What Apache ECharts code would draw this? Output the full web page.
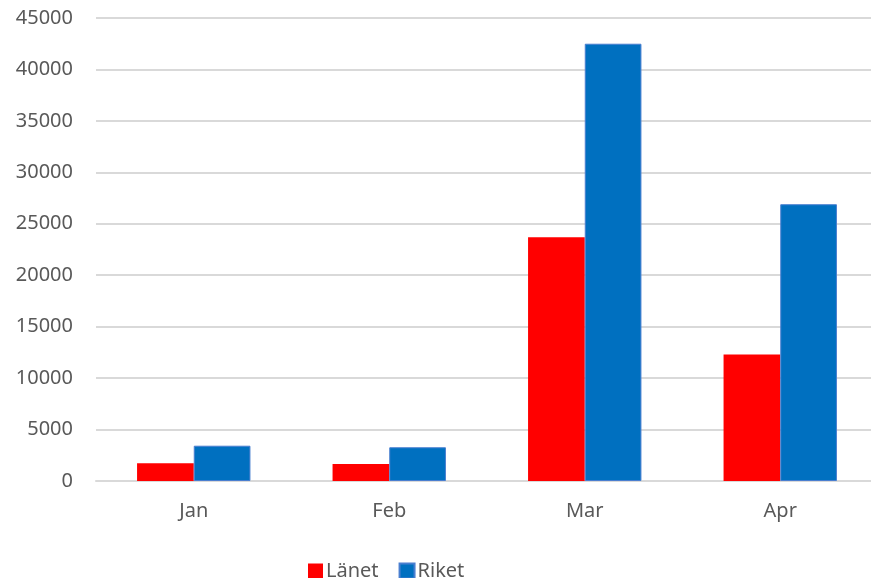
<!DOCTYPE html>
<html><head><meta charset="utf-8">
<script src="https://cdn.jsdelivr.net/npm/echarts@6/dist/echarts.min.js"></script>
<style>html,body{margin:0;padding:0;background:#fff}#c{width:871px;height:578px}</style>
</head><body><div id="c"></div>
<script>
const categories = ['Jan', 'Feb', 'Mar', 'Apr'];
const lanet = [1720, 1650, 23700, 12300];
const riket = [3430, 3280, 42500, 26900];
const seriesNames = ['Länet', 'Riket'];

const chart = echarts.init(document.getElementById('c'), null, {renderer: 'canvas'});
const font = "'Noto Sans', 'Open Sans', sans-serif";
chart.setOption({
  animation: false,
  backgroundColor: '#fff',
  textStyle: {fontFamily: font},
  grid: {left: 96, width: 782, top: 18, height: 463, containLabel: false, outerBoundsMode: 'none'},
  legend: {
    left: 303, top: 555, itemWidth: 15, itemHeight: 15, itemGap: 20,
    icon: 'rect',
    textStyle: {fontSize: 20, color: '#595959', fontFamily: font, lineHeight: 22, padding: [0, 0, 0, -2]},
    data: seriesNames
  },
  xAxis: {
    type: 'category', data: categories,
    axisLine: {lineStyle: {color: '#d9d9d9', width: 2}},
    axisTick: {show: false},
    axisLabel: {fontSize: 20, color: '#595959', margin: 20, fontFamily: font}
  },
  yAxis: {
    type: 'value', min: 0, max: 45000, interval: 5000,
    axisLine: {show: false}, axisTick: {show: false},
    splitLine: {lineStyle: {color: '#d9d9d9', width: 2}},
    axisLabel: {fontSize: 20, color: '#595959', margin: 23, fontFamily: font,
      formatter: v => String(v)}
  },
  series: [
    {name: seriesNames[0], type: 'bar', data: lanet, barGap: '0%', barCategoryGap: '42%',
     itemStyle: {color: '#ff0000'}},
    {name: seriesNames[1], type: 'bar', data: riket, barGap: '0%', barCategoryGap: '42%',
     itemStyle: {color: '#0070c0', borderColor: '#4a7fd0', borderWidth: 1}}
  ]
});
</script></body></html>
